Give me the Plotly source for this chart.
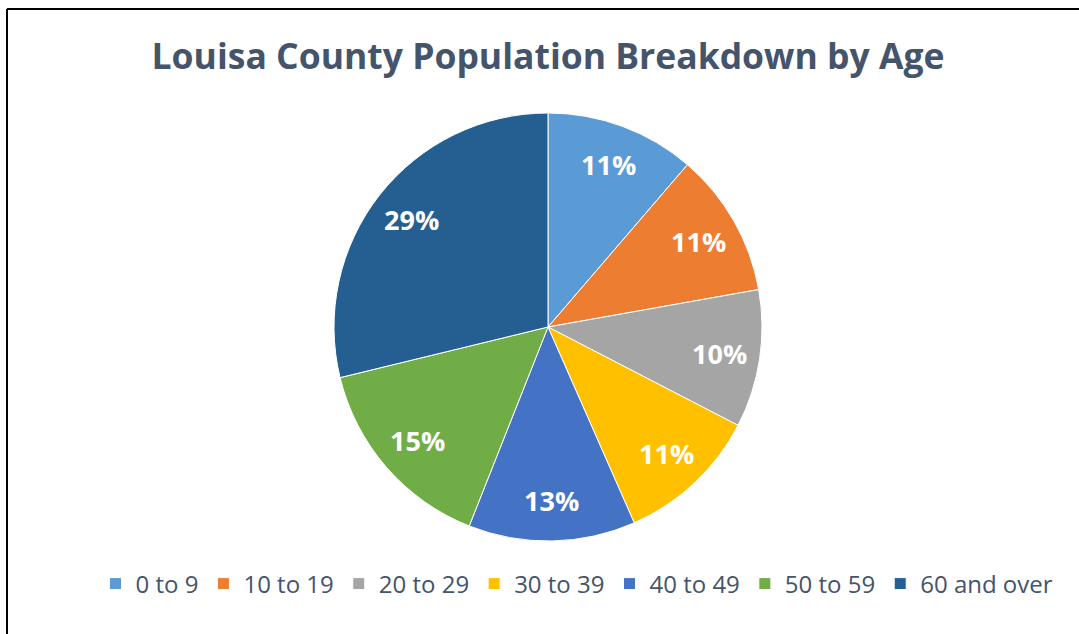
import math
import plotly.graph_objects as go

categories = ["0 to 9", "10 to 19", "20 to 29", "30 to 39", "40 to 49", "50 to 59", "60 and over"]
shares = [11.3, 10.9, 10.4, 10.8, 12.6, 15.2, 28.8]
colors = ["#5B9BD5", "#ED7D31", "#A5A5A5", "#FFC000", "#4472C4", "#70AD47", "#255E91"]
title_text = "Louisa County Population Breakdown by Age"

W, H = 1079, 634
cx, cy, r = 548, 327, 214

fig = go.Figure(go.Pie(
    labels=categories,
    values=shares,
    sort=False,
    direction="clockwise",
    rotation=0,
    marker=dict(colors=colors, line=dict(color="#FFFFFF", width=1)),
    textinfo="none",
    domain=dict(x=[(cx - r) / W, (cx + r) / W], y=[1 - (cy + r) / H, 1 - (cy - r) / H]),
    hoverinfo="skip",
))

# percentage labels placed at the middle angle of each slice, ~0.8 of the radius
total = sum(shares)
annotations = []
cum = 0.0
for v in shares:
    mid = (cum + v / 2) / total * 2 * math.pi
    cum += v
    px = cx + 0.81 * r * math.sin(mid)
    py = cy - 0.81 * r * math.cos(mid)
    annotations.append(dict(
        x=px / W, y=1 - py / H, xref="paper", yref="paper", showarrow=False,
        text="<b>%d%%</b>" % round(v / total * 100),
        font=dict(family="Open Sans", size=27, color="#FFFFFF"),
        xanchor="center", yanchor="middle",
    ))

fig.update_layout(
    width=W, height=H,
    margin=dict(l=0, r=0, t=0, b=0),
    paper_bgcolor="#FFFFFF",
    plot_bgcolor="#FFFFFF",
    title=dict(text="<b>" + title_text + "</b>", x=548 / W, xanchor="center", y=1 - 57 / H, yanchor="middle",
               font=dict(family="Open Sans", size=35.5, color="#44546A")),
    legend=dict(orientation="h", x=577 / W, xanchor="center", y=1 - 584 / H, yanchor="middle",
                font=dict(family="Open Sans", size=24, color="#44546A"), traceorder="normal",
                itemwidth=30),
    showlegend=True,
    annotations=annotations,
    shapes=[
        dict(type="line", xref="paper", yref="paper", x0=7 / W, x1=7 / W, y0=0, y1=1 - 9 / H,
             line=dict(color="#000000", width=2)),
        dict(type="line", xref="paper", yref="paper", x0=7 / W, x1=1, y0=1 - 9 / H, y1=1 - 9 / H,
             line=dict(color="#000000", width=2)),
    ],
)

fig.write_html("out.html", config={"displayModeBar": False},
               post_script="document.body.style.margin='0';document.body.style.overflow='hidden';")
